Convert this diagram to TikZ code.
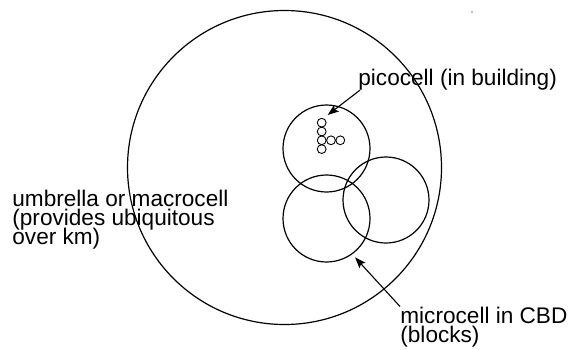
\documentclass[tikz,border=0pt]{standalone}
\usepackage{fontspec}
\setmainfont{Liberation Sans}
\usetikzlibrary{arrows.meta,
		positioning}
\newcommand\lblfont{\fontsize{22.6}{19}\selectfont\setlength{\lineskiplimit}{-100pt}}

\begin{document}
\begin{tikzpicture}[
			x=1pt, y=-1pt,
			thick,
			cell/.style = {circle, draw, line width=1.2pt, inner sep=0pt},
			tiny/.style = {circle, draw, line width=0.9pt, minimum size=8.8pt, inner sep=0pt},
			lbl/.style = {inner sep=0pt, align=left, font=\lblfont},
			pointer/.style = {-{Stealth[length=11pt, width=8pt, inset=2pt]}, line width=1.1pt},
			]
			\useasboundingbox (0,0) rectangle (570,349);
			% circles
			\node[cell, minimum size=314pt] (macro) at (284.5,167.5) {};
			\node[cell, minimum size=87pt] (pico) at (326.5,148.5) {};
			\node[cell, minimum size=87pt] (microA) at (326.5,218.5) {};
			\node[cell, minimum size=86pt] (microB) at (386,200) {};
			% picocells in the building
			\node[tiny] (p1) at (321.7,122.7) {};
			\node[tiny] (p2) at (321.7,131.5) {};
			\node[tiny] (p3) at (321.7,140.3) {};
			\node[tiny] (p4) at (321.7,149.1) {};
			\node[tiny] (p5) at (331,140.3) {};
			\node[tiny] (p6) at (340.3,140.3) {};
			\node[circle, fill=gray, inner sep=0pt, minimum size=1.6pt] (speck) at (472,12) {};
			% notes
			\node[lbl, anchor=base west] (t1) at (358,85) {picocell (in building)};
			\node[lbl, anchor=north west] (t2) at (400,306.5) {microcell in CBD\\(blocks)};
			\node[lbl, anchor=north west] (t3) at (12,189.5) {umbrella or macrocell\\(provides ubiquitous\\over km)};
			\coordinate (picotip) at (327.7,115);
			\coordinate (microtip) at (355,257.3);
			% edges
			\path[pointer]
			([xshift=2pt]t1.south west) edge (picotip)
			(t2.north west) edge (microtip)
			;
\end{tikzpicture}
\end{document}
